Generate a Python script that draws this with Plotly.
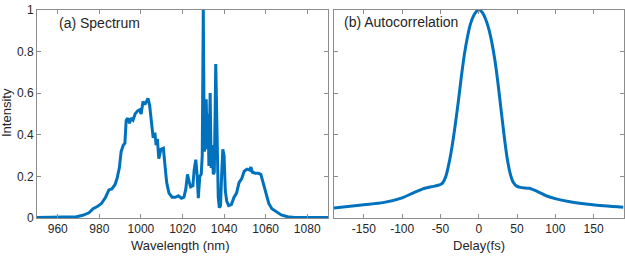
import plotly.graph_objects as go

# Spectrum data (wavelength in nm, normalized intensity)
wavelength = [950, 960, 966, 969, 972, 975, 977, 979, 981, 983, 984.6, 986, 987.5, 988.5,
              989.6, 990.5, 991.5, 992.3, 992.9, 993.7, 994.5, 995.3, 996.2, 997.2, 998.4,
              999.3, 1000.1, 1001, 1001.9, 1002.7, 1003.4, 1004.2, 1005.1, 1005.9, 1006.7,
              1007.3, 1007.9, 1008.6, 1009.6, 1010.8, 1011.6, 1012.4, 1013.5, 1015, 1016.6,
              1018, 1019.5, 1020.7, 1021.6, 1022.4, 1023.2, 1023.9, 1025, 1025.6, 1026.4,
              1027.1, 1027.6, 1028.3, 1029.0, 1029.5, 1030.0, 1030.5, 1031.0, 1031.4, 1031.9,
              1032.3, 1032.7, 1033.3, 1033.8, 1034.3, 1034.8, 1035.3, 1036.0, 1036.6, 1037.2,
              1037.7, 1038.3, 1038.8, 1039.4, 1040.0, 1040.6, 1041.3, 1042.2, 1043.5, 1044.8,
              1046, 1047.2, 1048.5, 1049.7, 1051, 1052.3, 1052.9, 1053.6, 1055, 1056.5, 1057.7,
              1059, 1060.3, 1061.5, 1063, 1065, 1067.5, 1070.5, 1074, 1090]
spectrum = [0.003, 0.003, 0.004, 0.006, 0.013, 0.025, 0.045, 0.055, 0.07, 0.10, 0.135, 0.14,
            0.16, 0.19, 0.24, 0.32, 0.35, 0.36, 0.47, 0.48, 0.455, 0.48, 0.47, 0.50, 0.515,
            0.52, 0.50, 0.56, 0.545, 0.565, 0.575, 0.54, 0.45, 0.385, 0.41, 0.35, 0.38, 0.285,
            0.33, 0.335, 0.25, 0.17, 0.12, 0.10, 0.10, 0.107, 0.095, 0.10, 0.14, 0.21, 0.175,
            0.15, 0.155, 0.23, 0.28, 0.20, 0.095, 0.20, 0.21, 0.30, 1.0, 0.32, 0.35, 0.57,
            0.33, 0.50, 0.25, 0.60, 0.24, 0.35, 0.21, 0.22, 0.74, 0.35, 0.10, 0.05, 0.06, 0.20,
            0.33, 0.30, 0.13, 0.08, 0.06, 0.065, 0.10, 0.12, 0.17, 0.19, 0.225, 0.235, 0.23,
            0.245, 0.22, 0.215, 0.215, 0.21, 0.16, 0.11, 0.07, 0.045, 0.03, 0.015, 0.006,
            0.003, 0.003]

# Autocorrelation data (delay in fs, normalized intensity)
delay = [-189, -150, -125, -100, -86, -73, -62, -54, -48, -43, -39, -35, -31, -27, -23,
         -19, -15, -11, -7, -3, 1, 5, 9, 13, 17, 21, 25, 29, 33, 37, 41, 45, 50, 56, 66,
         75, 88, 101, 119, 149, 189]
autocorr = [0.048, 0.064, 0.074, 0.097, 0.12, 0.14, 0.15, 0.156, 0.165, 0.20, 0.26, 0.34,
            0.44, 0.55, 0.67, 0.78, 0.865, 0.93, 0.97, 0.993, 1.0, 0.985, 0.955, 0.91, 0.845,
            0.76, 0.65, 0.525, 0.40, 0.29, 0.215, 0.172, 0.152, 0.146, 0.143, 0.13, 0.107,
            0.092, 0.078, 0.064, 0.052]

x1_ticks = [960, 980, 1000, 1020, 1040, 1060, 1080]
x2_ticks = [-150, -100, -50, 0, 50, 100, 150]
x2_ticklabels = ["-150", "-100", "-50", "0", "50", "100", "150"]
y_ticks = [0, 0.2, 0.4, 0.6, 0.8, 1]
y_ticklabels = ["0", "0.2", "0.4", "0.6", "0.8", "1"]

W, H = 625, 261
LINE = "#0072BD"
AX = "#8c8c8c"
TXT = "#262626"
FONT = "Liberation Sans, Arial, sans-serif"

fig = go.Figure()
fig.add_trace(go.Scatter(x=wavelength, y=spectrum, mode="lines",
                         line=dict(color=LINE, width=3), xaxis="x", yaxis="y"))
fig.add_trace(go.Scatter(x=delay, y=autocorr, mode="lines",
                         line=dict(color=LINE, width=3, shape="spline", smoothing=0.6),
                         xaxis="x2", yaxis="y2"))

def px_x(p):
    return p / W

def px_y(p):
    return 1 - p / H

ydom = [px_y(223), px_y(3)]
common = dict(showgrid=False, zeroline=False, showline=True, linecolor=AX, linewidth=1,
              mirror="ticks", ticks="inside", ticklen=4, tickcolor=AX,
              ticklabeloverflow="allow",
              tickfont=dict(family=FONT, size=12, color=TXT))

fig.update_layout(
    width=W, height=H, margin=dict(l=0, r=0, t=0, b=0),
    paper_bgcolor="white", plot_bgcolor="white", showlegend=False,
    font=dict(family=FONT, color=TXT),
    xaxis=dict(domain=[px_x(37), px_x(328)], range=[950, 1090], tickvals=x1_ticks,
               anchor="y", **common),
    yaxis=dict(domain=ydom, range=[0, 1], tickvals=y_ticks, ticktext=y_ticklabels,
               anchor="x", **common),
    xaxis2=dict(domain=[px_x(334), px_x(623.5)], range=[-189, 189], tickvals=x2_ticks,
                ticktext=x2_ticklabels, anchor="y2", **common),
    yaxis2=dict(domain=ydom, range=[0, 1], tickvals=y_ticks, showticklabels=False,
                anchor="x2", **common),
)

annos = [
    dict(text="(a) Spectrum", x=px_x(57), y=px_y(17), xanchor="left", yanchor="middle",
         font=dict(size=14)),
    dict(text="(b) Autocorrelation", x=px_x(342), y=px_y(16), xanchor="left",
         yanchor="middle", font=dict(size=14)),
    dict(text="Wavelength (nm)", x=px_x(180), y=px_y(252), xanchor="center",
         yanchor="middle", font=dict(size=13)),
    dict(text="Delay(fs)", x=px_x(479), y=px_y(252), xanchor="center",
         yanchor="middle", font=dict(size=13)),
    dict(text="Intensity", x=px_x(7), y=px_y(112), xanchor="center", yanchor="middle",
         textangle=-90, font=dict(size=13)),
]
for a in annos:
    a.update(xref="paper", yref="paper", showarrow=False)
    a["font"].update(family=FONT, color=TXT)
fig.update_layout(annotations=annos)

fig.write_html("out.html", config={"responsive": False, "displayModeBar": False},
               post_script="document.body.style.margin='0px';"
                           "document.body.style.overflow='hidden';")
